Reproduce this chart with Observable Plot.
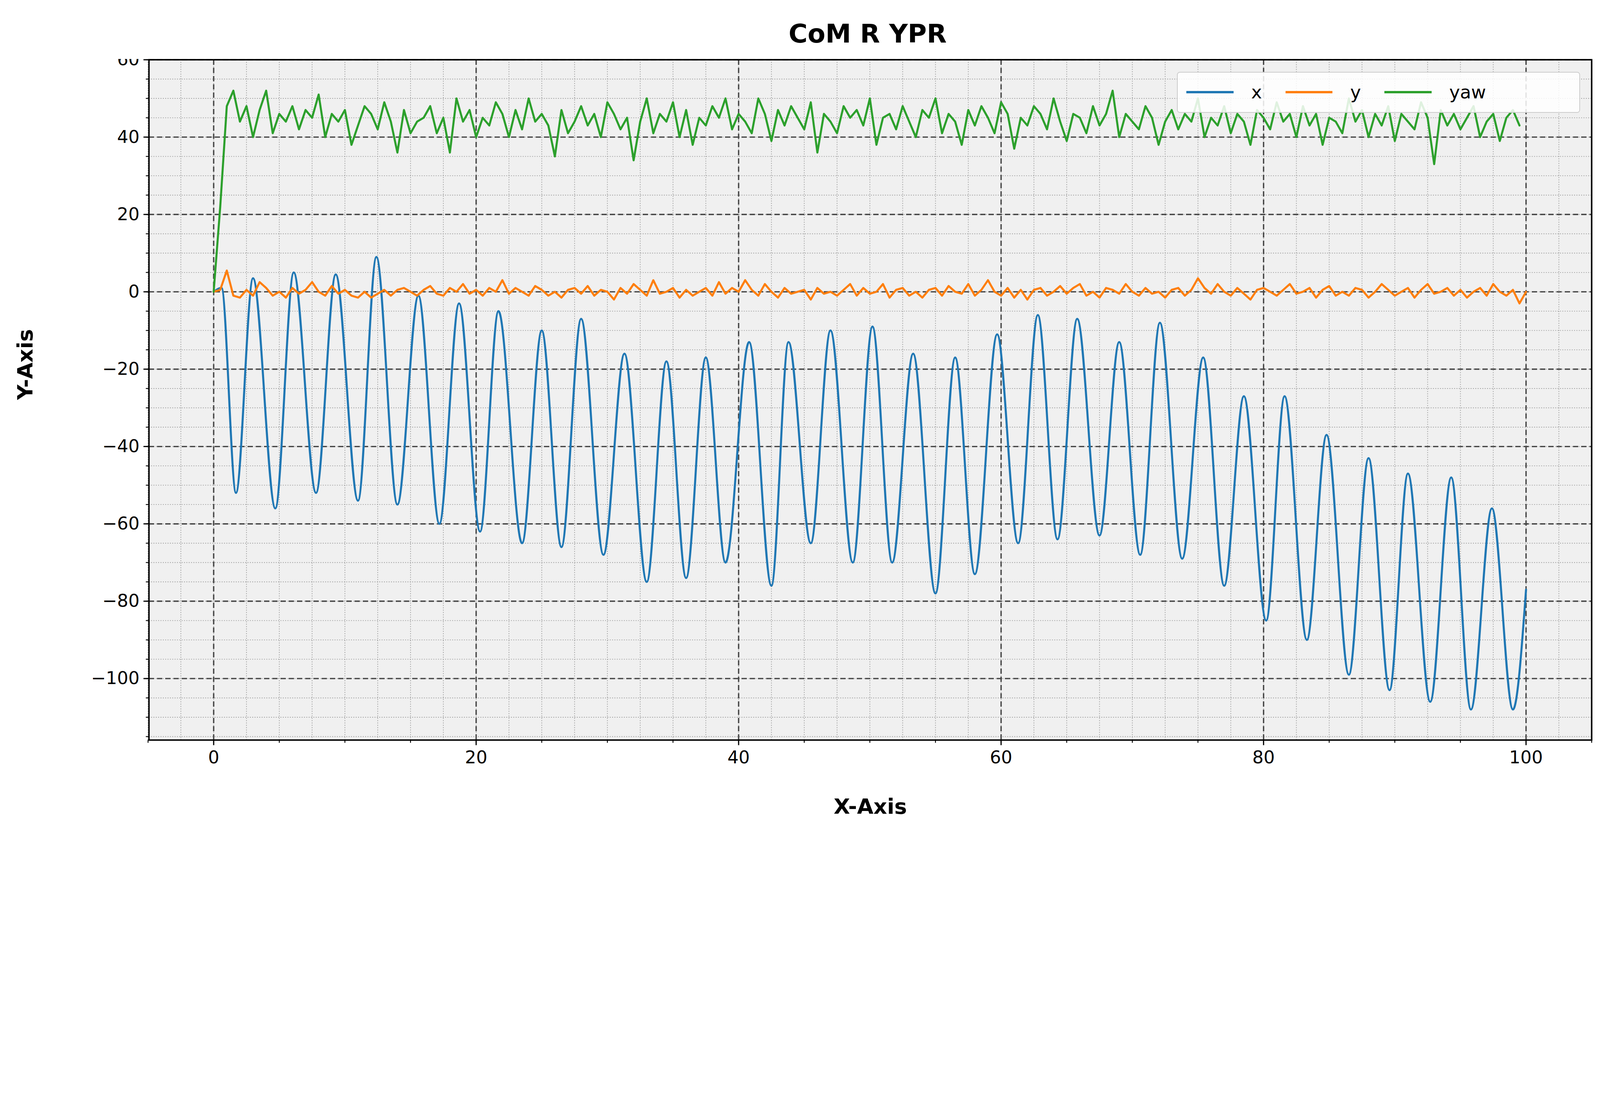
<!DOCTYPE html>
<html><head><meta charset="utf-8">
<script src="https://cdn.jsdelivr.net/npm/d3@7"></script>
<script src="https://cdn.jsdelivr.net/npm/@observablehq/plot@0.6"></script>
<style>
html,body{margin:0;background:#fff;font-family:"DejaVu Sans",sans-serif;overflow:hidden;}
#wrap{position:relative;}
#legend{position:absolute;background:rgba(255,255,255,0.85);border-style:solid;border-color:#ccc;display:flex;align-items:center;box-sizing:border-box;}
.it{display:flex;align-items:center;}
</style></head><body>
<div id="title"></div>
<div id="wrap"><div id="chart"></div><div id="legend"></div></div>
<script>
// x series: turning points (t, value)
const xT=[0,0.6,1.7,3,4.7,6.1,7.8,9.3,11,12.4,14,15.6,17.2,18.7,20.3,21.7,23.5,25,26.5,28,29.7,31.3,33,34.5,36,37.5,39,40.8,42.5,43.8,45.5,47,48.7,50.2,51.7,53.3,55,56.5,58,59.7,61.3,62.8,64.3,65.8,67.5,69,70.6,72.1,73.8,75.4,77,78.5,80.2,81.6,83.3,84.8,86.5,88,89.6,91,92.7,94.3,95.8,97.4,99,100];
const xV=[0,1,-52,3.5,-56,5,-52,4.5,-54,9,-55,-1,-60,-3,-62,-5,-65,-10,-66,-7,-68,-16,-75,-18,-74,-17,-70,-13,-76,-13,-65,-10,-70,-9,-70,-16,-78,-17,-73,-11,-65,-6,-64,-7,-63,-13,-68,-8,-69,-17,-76,-27,-85,-27,-90,-37,-99,-43,-103,-47,-106,-48,-108,-56,-108,-77];
// y and yaw sampled every 0.5 s from t=0
const yV=[0,0.5,5.5,-1,-1.5,0.5,-1,2.5,1,-1,0,-1.5,1,-0.5,0.5,2.5,0,-1,1.5,-0.5,0.5,-1,-1.5,0,-1.5,-0.5,0.5,-1,0.5,1,0,-1,0.5,1.5,-0.5,-1,1,0,2,-0.5,0.5,-1,1,0,3,-0.5,1,0,-1,1.5,0.5,-1,0,-1.5,0.5,1,-0.5,1.5,-1,0.5,0,-2,1,-0.5,2,0.5,-1,3,-0.5,0,1,-1.5,0.5,-1,0,1,-1,2.5,-0.5,1,0,3,0.5,-1,2,0,-1.5,1,-0.5,0,0.5,-2,1,-0.5,0,-1,0.5,2,-1,1,-0.5,0,2,-1.5,0.5,1,-1,0,-1.5,0.5,1,-1,1.5,0,-0.5,2,-1,0.5,3,0,-1,1,-1.5,0.5,-2,0.5,1,-1,0,1.5,-0.5,1,2,-1,0,-1.5,1,0.5,-0.5,2,0,-1,1,-0.5,0,-1.5,0.5,1,-1,0.5,3.5,1,-0.5,2,0,-1,1,-0.5,-2,0.5,1,0,-1,0.5,2,-0.5,0,1,-1.5,0.5,1.5,-1,0,-1,1,0.5,-1.5,0,2,0.5,-1,0,1,-1.5,0.5,2,-0.5,0,1,-1,0.5,-1.5,0,1,-1,2,0,-1,0.5,-3,0];
const yawV=[0,22,48,52,44,48,40,47,52,41,46,44,48,42,47,45,51,40,46,44,47,38,43,48,46,42,49,44,36,47,41,44,45,48,41,45,36,50,44,47,40,45,43,49,46,40,47,42,50,44,46,43,35,47,41,44,48,43,46,40,49,46,42,45,34,44,50,41,46,44,49,40,47,38,45,43,48,45,50,42,46,44,41,50,46,39,47,43,48,45,42,49,36,46,44,41,48,45,47,43,50,38,45,46,42,48,44,40,47,45,50,41,46,44,38,47,43,48,45,41,49,46,37,45,43,48,46,42,50,44,39,46,45,41,48,43,46,52,40,46,44,42,48,45,38,44,47,42,46,44,50,40,45,43,48,41,46,44,38,47,45,42,49,44,46,40,48,43,46,38,45,44,41,50,44,47,40,46,43,48,39,46,44,42,49,45,33,47,43,46,42,45,48,40,44,46,39,45,47,43];
const seriesNames=["x","y","yaw"], colors=["#1f77b4","#ff7f0e","#2ca02c"];
const xData=xT.map((t,i)=>({t,v:xV[i]}));
const yData=yV.map((v,i)=>({t:i*0.5,v}));
const yawData=yawV.map((v,i)=>({t:i*0.5,v}));
const xMaj=[0,20,40,60,80,100], yMaj=[-100,-80,-60,-40,-20,0,20,40,60];
const xMin=d3.range(-5,105.1,2.5), yMin=d3.range(-115,60.1,5);
const xTickMin=d3.range(-5,105.1,5);

const W=window.innerWidth, H=window.innerHeight, k=W/5442;
const titleH=200*k;
const t=document.getElementById("title");
Object.assign(t.style,{height:titleH+"px",lineHeight:(230*k)+"px",textAlign:"center",fontWeight:"bold",fontSize:(88*k)+"px",paddingLeft:(460*k)+"px",boxSizing:"border-box"});
t.textContent="CoM R YPR";
const lg=document.getElementById("legend");
Object.assign(lg.style,{left:(4003*k)+"px",top:(44*k)+"px",width:(1371*k)+"px",height:(140*k)+"px",borderWidth:(3*k)+"px",borderRadius:(10*k)+"px",fontSize:(62*k)+"px",paddingLeft:(30*k)+"px"});
seriesNames.forEach((n,i)=>{
  const it=document.createElement("div");it.className="it";it.style.marginRight=(80*k)+"px";
  const ln=document.createElement("div");Object.assign(ln.style,{width:(160*k)+"px",height:(8*k)+"px",marginRight:(60*k)+"px",background:colors[i]});
  it.appendChild(ln);it.appendChild(document.createTextNode(n));lg.appendChild(it);
});
const sh=H-titleH;
const fmt=d=>d<0?"\u2212"+(-d):String(d);
const chart=Plot.plot({
  width:W,height:sh,marginTop:2*k,marginLeft:506*k,marginRight:29*k,marginBottom:sh-(2517-200)*k,
  style:{fontFamily:"DejaVu Sans",fontSize:(60*k)+"px",background:"#fff",color:"#000"},
  x:{domain:[-4.93,105],label:null},y:{domain:[-115.9,60],label:null},
  marks:[
    Plot.frame({fill:"#f0f0f0",stroke:null}),
    Plot.ruleX(xMin,{stroke:"#999",strokeWidth:2.5*k,strokeDasharray:`${3*k},${5*k}`}),
    Plot.ruleY(yMin,{stroke:"#999",strokeWidth:2.5*k,strokeDasharray:`${3*k},${5*k}`}),
    Plot.ruleX(xMaj,{stroke:"#444",strokeWidth:4.5*k,strokeDasharray:`${18*k},${10*k}`}),
    Plot.ruleY(yMaj,{stroke:"#444",strokeWidth:4.5*k,strokeDasharray:`${18*k},${10*k}`}),
    Plot.line(xData,{x:"t",y:"v",stroke:colors[0],strokeWidth:7*k,curve:"monotone-x"}),
    Plot.line(yData,{x:"t",y:"v",stroke:colors[1],strokeWidth:7*k}),
    Plot.line(yawData,{x:"t",y:"v",stroke:colors[2],strokeWidth:7*k}),
    Plot.axisX(xTickMin,{tickSize:10*k,text:null,label:null,strokeWidth:3*k}),
    Plot.axisY(yMin,{tickSize:10*k,text:null,label:null,strokeWidth:3*k}),
    Plot.axisX(xMaj,{tickSize:18*k,tickPadding:18*k,strokeWidth:4*k,label:null}),
    Plot.axisY(yMaj,{tickSize:18*k,tickPadding:14*k,strokeWidth:4*k,tickFormat:fmt,label:null}),
    Plot.text(["X-Axis"],{frameAnchor:"bottom",dy:250*k,fontWeight:"bold",fontSize:72*k}),
    Plot.text(["Y-Axis"],{frameAnchor:"left",dx:-420*k,rotate:-90,fontWeight:"bold",fontSize:72*k}),
    Plot.frame({stroke:"#000",strokeWidth:5*k})
  ]
});
document.getElementById("chart").appendChild(chart);
</script></body></html>
